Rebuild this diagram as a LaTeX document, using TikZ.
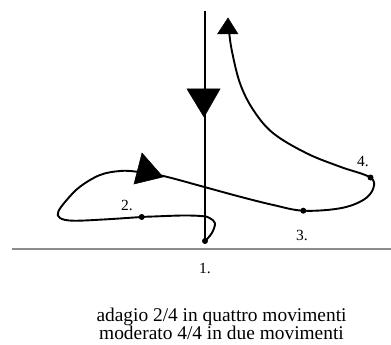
\documentclass[tikz,border=0pt]{standalone}
\usepackage{fontspec}
\setmainfont{Liberation Serif}
\begin{document}
\begin{tikzpicture}[x=1pt,y=-1pt,
  curve/.style={line width=1.9pt,line join=round,line cap=round},
  tip/.style={fill=black,draw=black,line width=0.5pt,line join=miter},
  dot/.style={circle,fill=black,inner sep=0pt,minimum size=6pt},
  lbl/.style={font=\fontsize{15.5}{16}\selectfont,inner sep=0pt},
  caption/.style={font=\fontsize{19.4}{18}\selectfont,inner sep=0pt,anchor=base}]
\useasboundingbox (0,0) rectangle (391,345);
% baseline
\draw[gray!90,line width=1.6pt] (12,249) -- (391,249);
% vertical line
\coordinate (top) at (205,11);
\node[dot] (d1) at (205,241) {};
\draw[line width=1.8pt] (top) -- (d1.center);
\fill[tip] (187,89) -- (220,89) -- (204,117) -- cycle;
% main curve
\draw[curve] plot[smooth,tension=0.6] coordinates {
 (205,241) (211.7,233.3) (215,223.3) (210,218.3) (203.3,216.2) (183.3,215.5)
 (153.3,216.5) (141.7,217) (106.7,219.3) (73.3,220.7) (60,218) (58.3,211.7)
 (66.7,200) (80,186.7) (100,175) (120,171) (136.7,171.7) (163.3,176)
 (203.3,186.7) (240,196.7) (273.3,205) (303.3,210.7) (340,208.3)
 (363.3,200) (373.3,188.3) (370,177.3) (340,166.7) (306.7,153.3)
 (273.3,133.3) (253.3,110) (240,83.3) (231.7,50) (229,30)};
\node[dot] (d2) at (141.7,217) {};
\node[dot] (d3) at (303.3,210.7) {};
\node[dot] (d4) at (370.5,177.5) {};
\fill[tip] (142,153) -- (134,184) -- (163,177) -- cycle;
\fill[tip] (228,18) -- (217.5,34) -- (238,34) -- cycle;
% labels
\node[lbl] (l1) at (205,268) {1.};
\node[lbl] (l2) at (127,205) {2.};
\node[lbl] (l3) at (302,235) {3.};
\node[lbl] (l4) at (363,162) {4.};
\node[caption] (c1) at (221.5,321) {adagio 2/4 in quattro movimenti};
\node[caption] (c2) at (221.5,339) {moderato 4/4 in due movimenti};
\end{tikzpicture}
\end{document}
